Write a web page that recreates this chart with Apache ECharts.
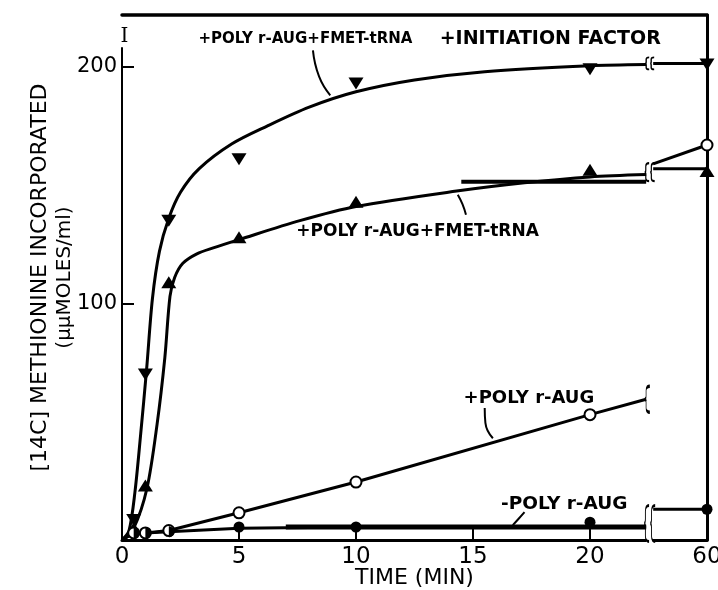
<!DOCTYPE html>
<html><head><meta charset="utf-8">
<script src="https://cdn.jsdelivr.net/npm/echarts@6/dist/echarts.min.js"></script>
<style>html,body{margin:0;padding:0;background:#fff}#c{width:718px;height:590px}</style>
</head><body><div id="c"></div>
<script>
// ---- data ----
const times = [0.5, 1, 2, 5, 10, 20, 60];
const initFactor = [8.5, 70, 135, 161, 193, 199, 201];   // +POLY r-AUG +FMET-tRNA +INITIATION FACTOR (down triangles)
const fmetTrna   = [5, 23, 109, 128, 143, 156.5, 156];   // +POLY r-AUG +FMET-tRNA (up triangles)
const polyAug    = [3, 3, 4, 11.5, 24.5, 53, 167];       // +POLY r-AUG (open circles)
const noPoly     = [3, 3, 3.5, 5.5, 5.5, 7.5, 13];       // -POLY r-AUG (filled circles)

// hand-traced drawn curves (time, value) up to the axis break
const initFactorCurve = [[0,0],[0.3,4],[0.55,20],[0.8,45],[1.05,72],[1.3,102],[1.6,122],[2,136],[2.5,147],[3.3,157],[4.7,167.5],[6.2,175],[8,183],[10,189.5],[12.5,194.5],[15.5,198],[20,200.5],[22.4,201]];
const fmetCurve = [[0,0],[0.5,5],[1.07,22],[1.5,49],[1.83,77],[2.05,103],[2.25,111],[2.6,117],[3.2,121],[3.9,123.5],[5,127],[7.6,135],[10,141],[14.3,147.5],[17.2,151],[20,153.5],[22.4,154.5]];
const polyAugLine = [[0,0],[0.5,3],[1,3],[2,4],[5,11.5],[10,24.5],[20,53],[22.4,59.5]];
const noPolyLine  = [[0,0],[0.5,3],[1,3],[2,3.5],[5,5],[10,5.5],[20,5.5],[22.4,5.5]];
// drawn segments after the axis break, ending at 60 min
const initFactorTail = [[22.7,201.5],[60,201.5]];
const fmetTail   = [[22.7,157],[60,157]];
const polyAugTail = [[22.7,159],[60,167]];
const noPolyTail = [[22.7,13],[60,13]];
// heavy ruled strokes visible in the figure
const heavyFmet = [[14.5,151.5],[22.4,151.5]];
const heavyNoPoly = [[7,5.5],[22.4,5.5]];

const xTickLabels = ['0','5','10','15','20','60'];
const yTickLabels = ['100','200'];
const labelTexts = ['+POLY r-AUG+FMET-tRNA', '+INITIATION FACTOR', '+POLY r-AUG+FMET-tRNA', '+POLY r-AUG', '-POLY r-AUG'];
const yTitle1 = '[14C] METHIONINE INCORPORATED';
const yTitle2 = '(μμMOLES/ml)';
const xTitle = 'TIME (MIN)';

// ---- chart ----
const X = t => (t >= 59 ? 25 : t);      // broken axis: 60 min drawn at the right edge
const seg = arr => arr.map(([t, v]) => [X(t), v]);
const pts = (ts, vs) => ts.map((t, i) => [X(t), vs[i]]);
const K = '#000';
const F = 'DejaVu Sans';

const BRACE1 = 'path://M4,0Q1,0,1,4L1,9Q1,12,0,12Q1,12,1,15L1,20Q1,24,4,24';
const BRACE2 = BRACE1 + 'M9,0Q6,0,6,4L6,9Q6,12,5,12Q6,12,6,15L6,20Q6,24,9,24';
const HALF = 'path://M0,0C5.5,0,10,4.5,10,10C10,15.5,5.5,20,0,20Z';

function line(data, width, smooth, z) {
  return {type: 'line', xAxisIndex: 0, yAxisIndex: 0, data: seg(data), symbol: 'none',
    smooth: smooth || false, lineStyle: {color: K, width: width, opacity: 1},
    z: z || 3, silent: true, clip: false, animation: false};
}

const noPolyData = pts(times, noPoly).map((p, i) =>
  Math.abs(noPoly[i] - polyAug[i]) < 1.6
    ? {value: p, symbol: HALF, symbolKeepAspect: true, symbolOffset: ['25%', 0]}
    : {value: p});

const labelPos = [[7.84, 211.8], [18.3, 211.8], [12.63, 130.5], [17.39, 60], [18.9, 15.2]];
const labelSize = [15, 19, 17, 18, 18.5];

const option = {
  animation: false,
  backgroundColor: '#fff',
  grid: [
    {left: 122, right: 11, top: 48, bottom: 50, outerBoundsMode: 'none', containLabel: false},
    {left: 122, right: 11, top: 15, bottom: 50, outerBoundsMode: 'none', containLabel: false}
  ],
  xAxis: [
    {gridIndex: 0, type: 'value', min: 0, max: 25, interval: 5,
      axisLine: {show: true, lineStyle: {color: K, width: 3}},
      axisTick: {show: true, inside: true, length: 11, lineStyle: {color: K, width: 2},
        customValues: xTickLabels.slice(1, 5).map(s => X(+s))},
      axisLabel: {show: true, color: K, fontFamily: F, fontSize: 23, margin: 6,
        customValues: xTickLabels.map(s => X(+s)),
        formatter: v => xTickLabels.find(s => X(+s) === v) || ''},
      splitLine: {show: false},
      name: xTitle, nameLocation: 'middle', nameGap: 27, nameMoveOverlap: false,
      nameTextStyle: {color: K, fontFamily: F, fontSize: 22}},
    {gridIndex: 1, type: 'value', position: 'top', min: 0, max: 1,
      axisLine: {show: true, onZero: false, lineStyle: {color: K, width: 3.5}},
      axisTick: {show: false}, axisLabel: {show: false}, splitLine: {show: false}}
  ],
  yAxis: [
    {gridIndex: 0, type: 'value', min: 0, max: 208, interval: 100,
      axisLine: {show: true, lineStyle: {color: K, width: 2}},
      axisTick: {show: true, inside: true, length: 12, lineStyle: {color: K, width: 2},
        customValues: yTickLabels.map(Number)},
      axisLabel: {show: true, color: K, fontFamily: F, fontSize: 21, margin: 5,
        customValues: yTickLabels.map(Number)},
      splitLine: {show: false},
      name: 'I', nameLocation: 'end', nameGap: 1, nameMoveOverlap: false,
      nameTextStyle: {color: K, fontFamily: 'DejaVu Serif', fontSize: 20, padding: [0, 0, 0, 5]}},
    {gridIndex: 1, type: 'value', position: 'right', min: 0, max: 1,
      axisLine: {show: true, onZero: false, lineStyle: {color: K, width: 3}},
      axisTick: {show: false}, axisLabel: {show: false}, splitLine: {show: false}},
    {gridIndex: 1, type: 'value', position: 'left', min: 0, max: 1,
      axisLine: {show: false}, axisTick: {show: false}, axisLabel: {show: false}, splitLine: {show: false},
      name: '{a|' + yTitle1 + '}\n{b|' + yTitle2 + '}', nameLocation: 'middle', nameRotate: 90, nameGap: 46,
      nameMoveOverlap: false,
      nameTextStyle: {color: K, fontFamily: F,
        rich: {a: {fontSize: 22, lineHeight: 25, fontFamily: F, color: K},
               b: {fontSize: 20, lineHeight: 23, fontFamily: F, color: K}}}}
  ],
  series: [
    line(initFactorCurve, 3, 0.3),
    line(initFactorTail, 3),
    line(fmetCurve, 3, 0.3),
    line(fmetTail, 3),
    line(heavyFmet, 4),
    line(polyAugLine, 3),
    line(polyAugTail, 3),
    line(noPolyLine, 3),
    line(heavyNoPoly, 5),
    line(noPolyTail, 3),
    // leader lines from the labels to their curves
    line([[8.16, 207], [8.42, 196], [8.9, 188]], 2, 0.5),
    line([[14.7, 137.5], [14.55, 142], [14.35, 146]], 2, 0.5),
    line([[15.5, 55.8], [15.53, 49.5], [15.85, 43]], 2, 0.5),
    line([[17.2, 11.8], [16.95, 9], [16.7, 6.3]], 2, 0.5),
    // axis-break marks
    {type: 'scatter', xAxisIndex: 0, yAxisIndex: 0, silent: true, z: 4, clip: false,
      symbol: 'rect', symbolSize: [6, 8], itemStyle: {color: '#fff', opacity: 1}, data: [[22.55, 0]]},
    {type: 'scatter', xAxisIndex: 0, yAxisIndex: 0, silent: true, z: 5, clip: false,
      itemStyle: {color: 'none', borderColor: K, borderWidth: 1.6, opacity: 1},
      data: [
        {value: [22.55, 201.5], symbol: BRACE2, symbolSize: [9, 12]},
        {value: [22.55, 155.5], symbol: BRACE2, symbolSize: [10, 18]},
        {value: [22.45, 59.5], symbol: BRACE1, symbolSize: [5, 26]},
        {value: [22.55, 7], symbol: BRACE2, symbolSize: [11, 36]}
      ]},
    // data markers
    {type: 'scatter', xAxisIndex: 0, yAxisIndex: 0, z: 6, symbol: 'triangle', symbolRotate: 180,
      symbolSize: [15, 12], itemStyle: {color: K, opacity: 1}, data: pts(times, initFactor)},
    {type: 'scatter', xAxisIndex: 0, yAxisIndex: 0, z: 6, symbol: 'triangle',
      symbolSize: [15, 12], itemStyle: {color: K, opacity: 1}, data: pts(times, fmetTrna)},
    {type: 'scatter', xAxisIndex: 0, yAxisIndex: 0, z: 7, symbol: 'circle', symbolSize: 11,
      itemStyle: {color: '#fff', borderColor: K, borderWidth: 2, opacity: 1}, data: pts(times, polyAug)},
    {type: 'scatter', xAxisIndex: 0, yAxisIndex: 0, z: 8, symbol: 'circle', symbolSize: 11,
      itemStyle: {color: K, opacity: 1}, data: noPolyData},
    // text labels
    {type: 'scatter', xAxisIndex: 0, yAxisIndex: 0, z: 9, silent: true, clip: false,
      symbolSize: 1, itemStyle: {color: 'rgba(0,0,0,0)', opacity: 1},
      data: labelTexts.map((s, i) => ({name: s, value: labelPos[i],
        label: {show: true, position: 'inside', formatter: '{b}', color: K, fontFamily: F,
          fontWeight: 'bold', fontSize: labelSize[i]}}))}
  ]
};

const chart = echarts.init(document.getElementById('c'), null, {renderer: 'canvas'});
chart.setOption(option);
</script>
</body></html>
